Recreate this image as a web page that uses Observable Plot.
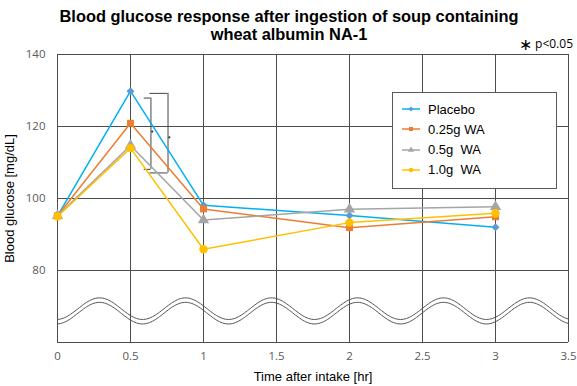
<!DOCTYPE html>
<html><head><meta charset="utf-8">
<script src="https://cdn.jsdelivr.net/npm/d3@7"></script>
<script src="https://cdn.jsdelivr.net/npm/@observablehq/plot@0.6"></script>
<style>
body{margin:0;background:#fff;}
#wrap{position:relative;width:577px;height:386px;overflow:hidden;font-family:"Liberation Sans",Arial,sans-serif;}
#title{position:absolute;left:0;top:8px;width:578px;text-align:center;font-weight:bold;font-size:16.4px;line-height:17.5px;color:#000;z-index:2;}
#sig{position:absolute;right:4px;top:33px;font-family:"Open Sans",sans-serif;font-size:12px;color:#000;white-space:nowrap;z-index:3;}
#sig .ast{font-size:16px;vertical-align:-2px;}
#chart{position:absolute;left:0;top:46px;z-index:1;}
#legend{position:absolute;left:392px;top:92px;width:163px;height:95px;border:1px solid #595959;background:#fff;z-index:2;}
.item{position:absolute;left:8px;height:20px;display:flex;align-items:center;font-size:13px;color:#000;white-space:pre;}
.item svg{margin-right:7px;}
#chart g[aria-label="x-axis label"] text,#chart g[aria-label="y-axis label"] text{font-family:"Liberation Sans",Arial,sans-serif;font-size:13px;fill:#000;}
</style></head>
<body>
<div id="wrap">
  <div id="title">Blood glucose response after ingestion of soup containing<br>wheat albumin NA-1</div>
  <div id="sig"><span class="ast">∗</span> p&lt;0.05</div>
  <div id="chart"></div>
  <div id="legend"></div>
</div>
<script>
// ---- data ----
const times = [0, 0.5, 1, 2, 3];
const seriesNames = ["Placebo", "0.25g WA", "0.5g  WA", "1.0g  WA"];
const placebo = [95.2, 129.8, 98.1, 95.3, 92.0];
const wa025 = [95.2, 120.9, 97.1, 91.9, 94.9];
const wa05 = [95.2, 114.7, 94.0, 97.0, 97.7];
const wa10 = [95.0, 114.0, 85.9, 93.3, 95.9];
const xTicks = [0, 0.5, 1, 1.5, 2, 2.5, 3, 3.5];
const yTicks = [80, 100, 120, 140];
const gridY = [60, 80, 100, 120, 140];
// significance brackets (data units)
const bracketX = [0.64, 0.757];
const bracketLeft = [0.594, 0.633];
const bracketTop = [127.9, 129.2];
const bracketBottom = [108.1, 107.1];
const starX = [0.649, 0.766];
const starY = [118.6, 117.0];

// ---- styles ----
const lineColors = ["#00B0F0", "#ED7D31", "#A5A5A5", "#FFC000"];
const markColors = ["#5B9BD5", "#ED7D31", "#A5A5A5", "#FFC000"];
const symbols = ["diamond2", "square", "triangle", "circle"];
const symbolR = [3.6, 3.9, 4.2, 4.2];
const d3Symbols = [d3.symbolDiamond2, d3.symbolSquare, d3.symbolTriangle, d3.symbolCircle];

const values = [placebo, wa025, wa05, wa10];
const seriesRows = values.map((vals, s) => times.map((t, i) => ({series: seriesNames[s], t, v: vals[i]})));

const brackets = bracketX.map((x, i) => ({x, left: bracketLeft[i], top: bracketTop[i], bottom: bracketBottom[i]}));
const stars = starX.map((x, i) => ({x, y: starY[i]}));

// decorative axis-break wave (not data)
const breakWave = d3.range(0, 3.5001, 0.01).map(x => ({x, y: 69.4 + 3.0 * Math.cos(2 * Math.PI * (x - 0.288) / 0.589)}));

const marks = [
  Plot.ruleY(gridY, {stroke: "#4d4d4d", strokeWidth: 1}),
  Plot.ruleX(xTicks, {y1: 60, y2: 140, stroke: "#4d4d4d", strokeWidth: 1}),
  Plot.line(breakWave, {x: "x", y: "y", stroke: "#555", strokeWidth: 1, curve: "linear"}),
  Plot.line(breakWave, {x: "x", y: d => d.y - 1.25, stroke: "#555", strokeWidth: 1, curve: "linear"}),
  // brackets
  Plot.ruleX(brackets, {x: "x", y1: "bottom", y2: "top", stroke: "#444", strokeWidth: 1}),
  Plot.ruleY(brackets, {y: "top", x1: "left", x2: "x", stroke: "#444", strokeWidth: 1}),
  Plot.ruleY(brackets, {y: "bottom", x1: "left", x2: "x", stroke: "#444", strokeWidth: 1}),
  Plot.dot(stars, {x: "x", y: "y", r: 1.1, fill: "#333", stroke: null}),
  Plot.axisX({ticks: xTicks, tickSize: 0, tickPadding: 9, fontSize: 11.5, fill: "#595959", fontFamily: "Open Sans", label: "Time after intake [hr]", labelArrow: "none", labelAnchor: "center", labelOffset: 38, tickFormat: d => String(d)}),
  Plot.axisY({ticks: yTicks, tickSize: 0, tickPadding: 12, fontSize: 11.5, fill: "#595959", fontFamily: "Open Sans", label: "Blood glucose [mg/dL]", labelArrow: "none", labelAnchor: "center", labelOffset: 53})
];
seriesRows.forEach((rows, s) => {
  marks.push(Plot.line(rows, {x: "t", y: "v", stroke: lineColors[s], strokeWidth: 1.5}));
  marks.push(Plot.dot(rows, {x: "t", y: "v", symbol: () => symbols[s], r: symbolR[s], fill: markColors[s], stroke: null}));
});

const plot = Plot.plot({
  width: 577,
  height: 340,
  marginTop: 8,
  marginBottom: 44,
  marginLeft: 57,
  marginRight: 9,
  x: {domain: [0, 3.5], labelArrow: "none"},
  y: {domain: [60, 140], labelArrow: "none"},
  symbol: {type: "identity"},
  style: {fontFamily: "Open Sans, sans-serif", background: "transparent"},
  marks
});
document.getElementById("chart").appendChild(plot);

// legend
const legend = document.getElementById("legend");
seriesNames.forEach((name, s) => {
  const item = document.createElement("div");
  item.className = "item";
  item.style.top = (6 + s * 20.3) + "px";
  const sw = d3.create("svg").attr("width", 20).attr("height", 10);
  sw.append("line").attr("x1", 1).attr("x2", 19).attr("y1", 5).attr("y2", 5).attr("stroke", lineColors[s]).attr("stroke-width", 1.5);
  sw.append("path").attr("transform", "translate(10,5)").attr("d", d3.symbol(d3Symbols[s], 16)()).attr("fill", markColors[s]);
  item.appendChild(sw.node());
  const label = document.createElement("span");
  label.textContent = name;
  item.appendChild(label);
  legend.appendChild(item);
});
</script>
</body></html>
